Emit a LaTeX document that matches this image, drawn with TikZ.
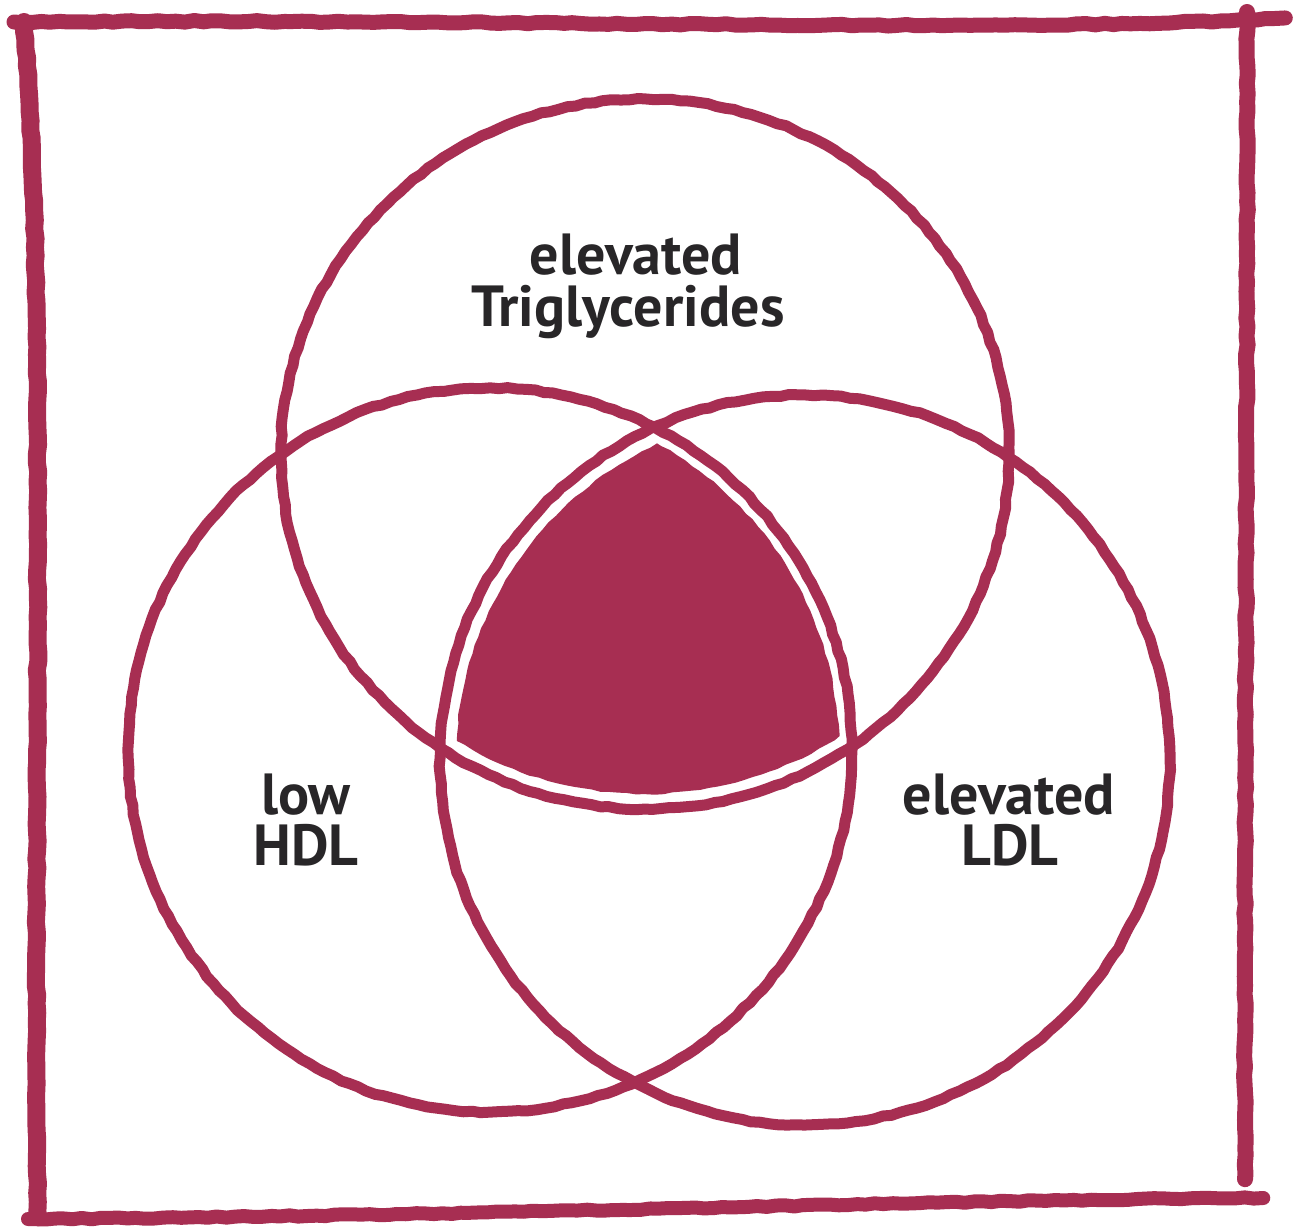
\documentclass[tikz,border=0pt]{standalone}
\usepackage{fontspec}
\setmainfont{PT Sans}
\usetikzlibrary{decorations.pathmorphing}
\definecolor{crayon}{RGB}{167,46,82}
\definecolor{ink}{RGB}{40,38,40}
\tikzset{
  rough/.style={decorate, decoration={random steps, segment length=9pt, amplitude=0.8pt}},
  ring/.style={draw=crayon, line width=11pt, rough, line join=round},
  edge/.style={draw=crayon, line cap=round, line join=round, rough},
  label/.style={text=ink, font=\fontsize{58}{52}\selectfont\bfseries, inner sep=0pt, anchor=base}
}
\begin{document}
\begin{tikzpicture}[x=1pt,y=-1pt]
\pgfmathsetseed{7}
\useasboundingbox (0,0) rectangle (1296,1230);
\fill[white] (0,0) rectangle (1296,1230);
% circle centres
\coordinate (ct) at (645,454);
\coordinate (cl) at (490,750);
\coordinate (cr) at (805,760);
% shaded triple intersection
\begin{scope}
  \clip[rough] (ct) ellipse[x radius=349, y radius=340];
  \clip[rough] (cl) circle[radius=349];
  \clip[rough] (cr) circle[radius=349];
  \fill[crayon] (300,300) rectangle (1000,900);
\end{scope}
% circles
\draw[ring] (ct) ellipse[x radius=364, y radius=355];
\draw[ring] (cl) circle[radius=362];
\draw[ring] (cr) circle[radius=365];
% frame
\coordinate (f1) at (14,22);
\coordinate (f2) at (1284,18);
\coordinate (f3) at (1247,12);
\coordinate (f4) at (1245,1178);
\coordinate (f5) at (24,22);
\coordinate (f6) at (38,1216);
\coordinate (f7) at (28,1219);
\coordinate (f8) at (1262,1198);
\draw[edge, line width=15pt] (f1) .. controls (500,18) and (1000,34) .. (f2);
\draw[edge, line width=16pt] (f3) .. controls (1248,400) and (1244,800) .. (f4);
\draw[edge, line width=18pt] (f5) .. controls (48,300) and (32,800) .. (f6);
\draw[edge, line width=14pt] (f7) .. controls (500,1216) and (900,1200) .. (f8);
% labels
\node[label] (trig1) at (636,275) {elevated};
\node[label] (trig2) at (628,327) {Triglycerides};
\node[label] (hdl1) at (306,814) {low};
\node[label] (hdl2) at (306,865) {HDL};
\node[label] (ldl1) at (1009,814) {elevated};
\node[label] (ldl2) at (1010,865) {LDL};
\end{tikzpicture}
\end{document}
